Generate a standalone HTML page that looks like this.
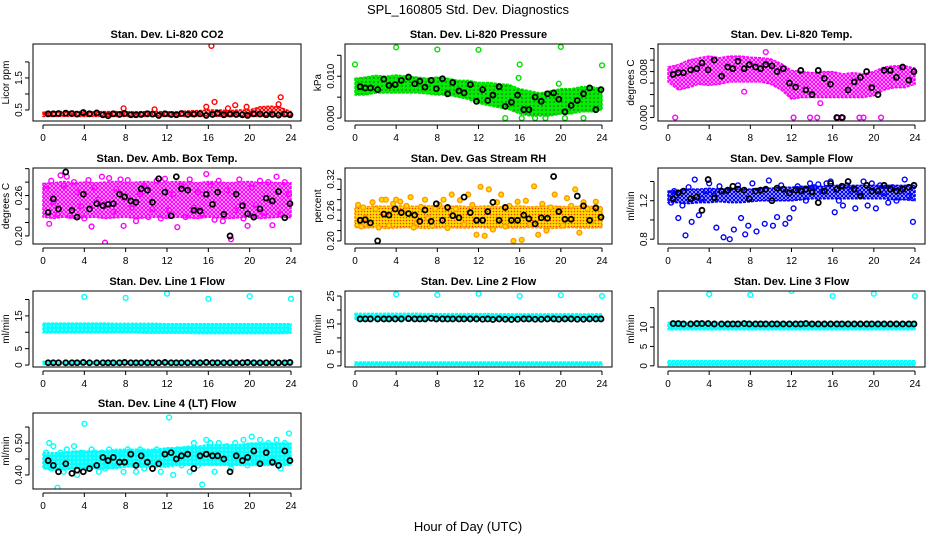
<!DOCTYPE html>
<html><head><meta charset="utf-8"><style>
html,body{margin:0;padding:0;background:#fff}
svg{display:block;font-family:"Liberation Sans",sans-serif}
</style></head><body>
<svg id="chart" width="936" height="540" viewBox="0 0 936 540" xmlns="http://www.w3.org/2000/svg">
<defs>
<pattern id="pat-red" width="4" height="4" patternUnits="userSpaceOnUse"><rect width="4" height="4" fill="#fff"/><circle cx="2" cy="2" r="1.5" fill="none" stroke="#ff0000" stroke-width="1.2"/></pattern>
<pattern id="pat-green" width="4" height="4" patternUnits="userSpaceOnUse"><rect width="4" height="4" fill="#00ee00"/><circle cx="2" cy="2" r="0.7" fill="#333"/></pattern>
<pattern id="pat-magenta" width="4" height="4" patternUnits="userSpaceOnUse"><rect width="4" height="4" fill="#fff"/><circle cx="2" cy="2" r="1.5" fill="none" stroke="#ff00ff" stroke-width="1.3"/></pattern>
<pattern id="pat-rh" width="3" height="3" patternUnits="userSpaceOnUse"><rect width="3" height="3" fill="#ffdd00"/><circle cx="1.5" cy="1.5" r="0.8" fill="#ff3300"/></pattern>
<pattern id="pat-blue" width="4" height="4" patternUnits="userSpaceOnUse"><rect width="4" height="4" fill="#fff"/><circle cx="2" cy="2" r="1.5" fill="none" stroke="#0000ff" stroke-width="1.3"/></pattern>
<pattern id="pat-cyan" width="4" height="4" patternUnits="userSpaceOnUse"><rect width="4" height="4" fill="#00ffff"/><circle cx="2" cy="2" r="0.7" fill="#ccffff"/></pattern>
</defs>
<text x="468" y="14" text-anchor="middle" font-size="13">SPL_160805  Std. Dev. Diagnostics</text>
<text x="468" y="531" text-anchor="middle" font-size="13">Hour of Day (UTC)</text>
</svg>
<script>
const hours=[0,1,2,3,4,5,6,7,8,9,10,11,12,13,14,15,16,17,18,19,20,21,22,23,24];
const blackHours=[0.5,1,1.5,2.2,2.8,3.3,3.9,4.5,5.2,5.8,6.3,6.8,7.4,7.9,8.5,9,9.5,10.1,10.6,11.2,11.8,12.4,12.9,13.4,14,14.6,15.2,15.8,16.4,16.9,17.5,18.1,18.7,19.3,19.8,20.4,21,21.6,22.2,22.8,23.4,23.9];
const scatterHours=[0.3,0.6,0.8,1,1.4,1.7,2,2.3,2.6,3,3.3,3.7,4,4.4,4.7,5,5.4,5.7,6,6.4,6.8,7.1,7.5,7.8,8.2,8.6,9,9.4,9.8,10.2,10.6,11,11.4,11.8,12.2,12.6,13,13.4,13.8,14.2,14.6,15,15.4,15.8,16.2,16.6,17,17.4,17.8,18.2,18.6,19,19.4,19.8,20.2,20.6,21,21.4,21.8,22.2,22.6,23,23.4,23.8];
const xTickValues=[0,4,8,12,16,20,24];
const xTickLabels=['0','4','8','12','16','20','24'];

// CO2
const co2Lo=[0.3,0.3,0.3,0.3,0.3,0.3,0.3,0.3,0.3,0.3,0.3,0.3,0.3,0.3,0.3,0.3,0.3,0.3,0.3,0.3,0.3,0.3,0.3,0.3,0.3];
const co2Hi=[0.43,0.44,0.45,0.45,0.45,0.44,0.45,0.45,0.44,0.44,0.45,0.45,0.44,0.44,0.47,0.48,0.5,0.5,0.48,0.5,0.5,0.6,0.62,0.58,0.45];
const co2OutX=[16.3,16.6,23,18.6,19.7,15.8,7.8,10.8,17.9,22.8];
const co2OutY=[2.5,0.75,0.9,0.65,0.6,0.6,0.55,0.52,0.55,0.68];
const co2Black=[0.38,0.38,0.39,0.4,0.39,0.37,0.42,0.38,0.41,0.35,0.32,0.38,0.36,0.39,0.35,0.35,0.36,0.38,0.37,0.33,0.38,0.36,0.35,0.39,0.36,0.37,0.38,0.33,0.36,0.4,0.35,0.37,0.36,0.35,0.33,0.38,0.37,0.35,0.36,0.34,0.37,0.35];
// Pressure
const presLo=[.0055,.0055,.006,.006,.006,.006,.006,.0058,.0055,.0055,.005,.0045,.0035,.003,.0025,.002,.001,.0005,.0005,.0005,.001,.001,.0015,.0015,.002];
const presHi=[.0095,.0098,.0102,.01,.0103,.01,.0098,.0095,.0098,.0095,.009,.009,.0085,.0085,.0082,.008,.007,.0065,.006,.0065,.007,.007,.0075,.0075,.007];
const presOutX=[0,4,8,12,16,15.9,20,24,14.6,16.2,17.5,18.5,20.4,22.2,19.8];
const presOutY=[.0128,.0169,.0164,.0163,.0128,.0096,.0170,.0126,0,0,0,0,0,0,.0082];
const presBlack=[.0075,.0072,.0072,.0068,.0093,.0078,.0080,.0090,.0098,.0082,.0088,.0074,.0090,.0070,.0094,.0058,.0085,.0065,.0060,.0080,.0040,.0068,.0042,.0055,.0075,.0028,.0038,.0055,.0020,.0020,.0050,.0040,.0058,.0060,.0045,.0015,.0030,.0042,.0058,.0072,.0020,.0068];
// Li-820 Temp
const tempLo=[.0062,.0048,.0052,.0058,.0056,.0058,.0062,.0062,.0062,.0062,.0058,.0048,.0032,.0035,.0035,.0035,.0035,.0035,.0035,.0035,.0038,.0048,.0052,.0052,.0058];
const tempHi=[.0088,.0092,.0100,.0104,.0107,.0104,.0107,.0107,.0105,.0104,.0102,.0094,.0082,.0080,.0078,.0080,.0080,.0076,.0078,.0076,.0080,.0088,.0090,.0090,.0086];
const tempOutX=[0.7,12.2,13.8,14.5,16.5,17,18.6,19,20.7,9.5,14.8,7.4];
const tempOutY=[0,0,0,0,0,0,0,0,0,.0114,.0025,.0045];
const tempBlack=[.0075,.0078,.0078,.0083,.0085,.0095,.0083,.0100,.0072,.0088,.0085,.0098,.0085,.0092,.0088,.0085,.0092,.0090,.0080,.0085,.0060,.0053,.0082,.0048,.0040,.0082,.0068,.0058,.0000,.0000,.0048,.0062,.0070,.0080,.0052,.0040,.0082,.0082,.0070,.0088,.0065,.0080];
// Amb box temp
const ambLo=[.228,.226,.228,.226,.227,.228,.226,.227,.228,.226,.227,.228,.226,.228,.227,.226,.228,.227,.226,.227,.228,.226,.227,.228,.227];
const ambHi=[.278,.279,.281,.279,.280,.279,.280,.281,.279,.280,.281,.279,.280,.281,.280,.279,.281,.280,.279,.280,.281,.279,.280,.279,.279];
const ambScatter=[.27,.218,.282,.25,.232,.29,.275,.288,.23,.28,.265,.244,.226,.283,.214,.272,.254,.288,.19,.286,.236,.27,.284,.215,.283,.242,.222,.262,.274,.228,.24,.282,.226,.285,.238,.262,.213,.275,.228,.284,.242,.265,.232,.292,.275,.224,.282,.222,.268,.195,.238,.284,.226,.215,.272,.246,.282,.234,.28,.216,.288,.232,.28,.262];
const ambBlack=[.235,.255,.24,.295,.238,.228,.262,.24,.248,.245,.247,.248,.262,.258,.252,.25,.27,.268,.25,.285,.265,.23,.288,.27,.268,.238,.237,.262,.247,.265,.232,.2,.262,.245,.233,.228,.24,.256,.252,.266,.227,.248];
// RH
const rhLo=[.226,.225,.226,.224,.225,.226,.225,.224,.225,.226,.225,.225,.226,.225,.226,.225,.225,.226,.225,.224,.225,.226,.225,.225,.226];
const rhHi=[.265,.266,.268,.267,.268,.268,.267,.268,.268,.267,.268,.266,.267,.268,.266,.267,.268,.266,.267,.268,.267,.266,.268,.267,.266];
const rhScatter=[.27,.228,.265,.245,.232,.275,.262,.226,.28,.28,.23,.272,.28,.276,.255,.268,.285,.226,.235,.266,.28,.244,.23,.262,.27,.28,.225,.29,.262,.279,.232,.29,.27,.212,.305,.21,.3,.222,.275,.29,.228,.268,.2,.276,.202,.278,.232,.306,.212,.272,.22,.265,.29,.262,.23,.283,.268,.3,.216,.275,.262,.238,.276,.262];
const rhBlack=[.24,.241,.235,.2,.252,.25,.262,.255,.253,.25,.238,.26,.238,.272,.24,.265,.249,.245,.285,.255,.24,.24,.257,.275,.24,.265,.24,.24,.25,.243,.233,.245,.244,.325,.257,.242,.242,.287,.268,.24,.264,.246];
// Sample flow
const sfLo=[1.18,1.18,1.17,1.18,1.18,1.19,1.18,1.18,1.19,1.2,1.2,1.2,1.2,1.21,1.22,1.22,1.22,1.22,1.22,1.22,1.22,1.22,1.21,1.21,1.2];
const sfHi=[1.3,1.31,1.32,1.32,1.33,1.32,1.32,1.32,1.32,1.33,1.33,1.34,1.34,1.35,1.35,1.35,1.36,1.36,1.36,1.36,1.36,1.36,1.36,1.36,1.36];
const sfScatter=[1.18,1.3,1.25,1.02,1.15,.84,1.34,.98,1.42,1.05,1.22,1.3,1.38,1.3,.92,1.35,.82,1.3,.8,.9,1.36,1.02,.85,.94,1.38,.88,1.3,.96,1.41,.94,1.03,1.36,.96,1.02,1.12,1.35,1.3,1.2,1.38,1.34,1.37,1.3,1.38,1.4,1.08,1.2,1.15,1.36,1.3,1.12,1.28,1.4,1.15,1.38,1.12,1.36,1.28,1.18,1.34,1.2,1.3,1.42,1.25,.98];
const sfBlack=[1.22,1.28,1.3,1.22,1.24,1.1,1.42,1.23,1.3,1.31,1.35,1.32,1.31,1.22,1.3,1.31,1.32,1.2,1.33,1.32,1.28,1.31,1.3,1.32,1.29,1.18,1.3,1.38,1.32,1.35,1.4,1.32,1.25,1.36,1.3,1.3,1.36,1.32,1.3,1.32,1.34,1.36];
// Line flows
const outlierHours=[4,8,12,16,20,24];
const l1Lo=[9.8,9.8,9.8,9.8,9.8,9.8,9.8,9.8,9.8,9.8,9.7,9.7,9.7,9.7,9.7,9.6,9.6,9.6,9.6,9.6,9.6,9.6,9.6,9.6,9.7];
const l1Hi=[12.8,12.8,12.8,12.8,12.8,12.8,12.8,12.7,12.7,12.7,12.7,12.7,12.6,12.6,12.6,12.6,12.6,12.6,12.6,12.6,12.6,12.6,12.6,12.6,12.6];
const l1LowLo=[0.2,0.2,0.2,0.2,0.2,0.2,0.2,0.2,0.2,0.2,0.2,0.2,0.2,0.2,0.2,0.2,0.2,0.2,0.2,0.2,0.2,0.2,0.2,0.2,0.2];
const l1LowHi=[1.1,1.1,1.1,1.1,1.1,1.1,1.1,1.1,1.1,1.1,1.1,1.1,1.1,1.1,1.1,1.1,1.1,1.1,1.1,1.1,1.1,1.1,1.1,1.1,1.1];
const l1Out=[20.8,20.5,21.8,20.2,21,20.2];
const l1Black=[0.7,0.7,0.7,0.7,0.7,0.7,0.8,0.7,0.7,0.7,0.7,0.7,0.7,0.8,0.7,0.7,0.7,0.7,0.7,0.7,0.8,0.7,0.7,0.7,0.7,0.7,0.7,0.8,0.7,0.7,0.7,0.7,0.7,0.7,0.8,0.7,0.7,0.7,0.7,0.7,0.7,0.8];
const l2Lo=[16.5,16.5,16.5,16.5,16.5,16.5,16.5,16.5,16.5,16.5,16.5,16.5,16.5,16.5,16.5,16.5,16.5,16.5,16.5,16.5,16.5,16.5,16.5,16.5,16.5];
const l2Hi=[18.8,18.8,18.8,18.8,18.8,18.8,18.8,18.7,18.7,18.7,18.7,18.7,18.7,18.7,18.6,18.6,18.6,18.6,18.6,18.6,18.6,18.6,18.6,18.6,18.6];
const l2LowLo=[0.2,0.2,0.2,0.2,0.2,0.2,0.2,0.2,0.2,0.2,0.2,0.2,0.2,0.2,0.2,0.2,0.2,0.2,0.2,0.2,0.2,0.2,0.2,0.2,0.2];
const l2LowHi=[1.4,1.4,1.4,1.4,1.4,1.4,1.4,1.4,1.4,1.4,1.4,1.4,1.4,1.4,1.4,1.4,1.4,1.4,1.4,1.4,1.4,1.4,1.4,1.4,1.4];
const l2Out=[25.6,25.4,25.8,25,25.3,25];
const l2Black=[16.8,16.8,16.8,16.8,16.8,16.8,16.8,16.8,16.9,16.8,16.8,16.8,17,16.8,16.8,16.8,16.8,16.8,16.8,16.8,16.8,16.7,16.8,16.6,16.8,16.7,16.6,16.7,16.8,16.8,16.7,16.7,16.8,16.8,16.7,16.8,16.8,16.7,16.7,16.8,16.8,16.8];
const l3Lo=[9.3,9.3,9.3,9.3,9.3,9.3,9.3,9.3,9.3,9.3,9.3,9.3,9.3,9.3,9.3,9.3,9.3,9.3,9.3,9.3,9.3,9.3,9.3,9.3,9.3];
const l3Hi=[11.2,11.2,11.2,11.2,11.2,11.2,11.2,11.2,11.2,11.2,11.2,11.2,11.2,11.2,11.2,11.2,11.2,11.2,11.2,11.2,11.2,11.2,11.2,11.2,11.2];
const l3LowLo=[0.1,0.1,0.1,0.1,0.1,0.1,0.1,0.1,0.1,0.1,0.1,0.1,0.1,0.1,0.1,0.1,0.1,0.1,0.1,0.1,0.1,0.1,0.1,0.1,0.1];
const l3LowHi=[1.3,1.3,1.3,1.3,1.3,1.3,1.3,1.3,1.3,1.3,1.3,1.3,1.3,1.3,1.3,1.3,1.3,1.3,1.3,1.3,1.3,1.3,1.3,1.3,1.3];
const l3Out=[18.5,18.3,19.3,18,18.6,18];
const l3Black=[10.9,10.9,10.8,10.8,10.9,10.9,10.9,10.8,10.8,10.8,10.8,10.8,10.9,10.8,10.8,10.8,10.8,10.8,10.8,10.8,10.8,10.8,10.8,10.9,10.8,10.8,10.8,10.8,10.8,10.8,10.8,10.8,10.8,10.8,10.8,10.8,10.8,10.8,10.8,10.8,10.8,10.8];
const l4Lo=[0.42,0.415,0.415,0.42,0.42,0.42,0.42,0.42,0.425,0.425,0.425,0.425,0.425,0.43,0.43,0.43,0.43,0.43,0.43,0.43,0.43,0.43,0.43,0.43,0.43];
const l4Hi=[0.47,0.47,0.47,0.475,0.475,0.475,0.475,0.48,0.48,0.48,0.48,0.48,0.485,0.485,0.49,0.49,0.495,0.495,0.495,0.495,0.5,0.5,0.5,0.5,0.5];
const l4Scatter=[.47,.5,.42,.49,.36,.47,.41,.48,.44,.49,.4,.47,.56,.42,.48,.47,.41,.47,.42,.48,.47,.43,.47,.41,.48,.46,.41,.48,.42,.47,.44,.48,.41,.47,.58,.4,.48,.43,.47,.41,.5,.43,.37,.51,.5,.41,.5,.44,.49,.42,.5,.44,.51,.43,.52,.44,.51,.44,.5,.45,.51,.42,.5,.53];
const l4Black=[.445,.43,.41,.435,.405,.415,.41,.42,.43,.455,.445,.455,.44,.44,.465,.43,.46,.44,.42,.435,.465,.47,.45,.46,.465,.42,.46,.465,.46,.46,.45,.41,.46,.445,.455,.475,.435,.47,.44,.43,.475,.445];

const NS='http://www.w3.org/2000/svg';
const svg=document.getElementById('chart');
const colX0=[43,355,668], colX24=[291,602,915];
const rowTop=[44,168,291,413], rowBot=[121,244,367,489];
function mk(tag,attrs,parent){const e=document.createElementNS(NS,tag);for(const k in attrs)e.setAttribute(k,attrs[k]);(parent||svg).appendChild(e);return e;}

const panels=[
 {key:'co2',col:0,row:0,title:'Stan. Dev. Li-820 CO2',ylab:'Licor ppm',ymin:0.156,ymax:2.56,ticks:[0.5,1,1.5,2],tl:['0.5','','1.5',''],color:'#ff0000',pat:'pat-red',bands:[[co2Lo,co2Hi]],sx:co2OutX,sy:co2OutY,black:co2Black},
 {key:'pressure',col:1,row:0,title:'Stan. Dev. Li-820 Pressure',ylab:'kPa',ymin:-0.0007,ymax:0.0177,ticks:[0,.005,.01,.015],tl:['0.000','','0.010',''],color:'#00dd00',pat:'pat-green',bands:[[presLo,presHi]],sx:presOutX,sy:presOutY,black:presBlack},
 {key:'temp',col:2,row:0,title:'Stan. Dev. Li-820 Temp.',ylab:'degrees C',ymin:-0.0006,ymax:0.0128,ticks:[0,.002,.004,.006,.008,.010,.012],tl:['0.000','','','','0.008','',''],color:'#ff00ff',pat:'pat-magenta',bands:[[tempLo,tempHi]],sx:tempOutX,sy:tempOutY,black:tempBlack},
 {key:'ambtemp',col:0,row:1,title:'Stan. Dev. Amb. Box Temp.',ylab:'degrees C',ymin:0.188,ymax:0.301,ticks:[.2,.22,.24,.26,.28,.3],tl:['0.20','','','0.26','',''],color:'#ff00ff',pat:'pat-magenta',bands:[[ambLo,ambHi]],sx:scatterHours,sy:ambScatter,black:ambBlack},
 {key:'rh',col:1,row:1,title:'Stan. Dev. Gas Stream RH',ylab:'percent',ymin:0.194,ymax:0.3415,ticks:[.2,.22,.24,.26,.28,.3,.32],tl:['0.20','','','0.26','','','0.32'],color:'#ff9900',pat:'pat-rh',bands:[[rhLo,rhHi]],sx:scatterHours,sy:rhScatter,black:rhBlack},
 {key:'sampleflow',col:2,row:1,title:'Stan. Dev. Sample Flow',ylab:'ml/min',ymin:0.75,ymax:1.54,ticks:[.8,1.0,1.2,1.4],tl:['0.8','','1.2',''],color:'#0000ff',pat:'pat-blue',bands:[[sfLo,sfHi]],sx:scatterHours,sy:sfScatter,black:sfBlack},
 {key:'line1',col:0,row:2,title:'Stan. Dev. Line 1 Flow',ylab:'ml/min',ymin:-0.6,ymax:22.6,ticks:[0,5,10,15,20],tl:['0','5','','15',''],color:'#00ffff',pat:'pat-cyan',bands:[[l1Lo,l1Hi],[l1LowLo,l1LowHi]],sx:outlierHours,sy:l1Out,black:l1Black},
 {key:'line2',col:1,row:2,title:'Stan. Dev. Line 2 Flow',ylab:'ml/min',ymin:-0.4,ymax:26.8,ticks:[0,5,10,15,20,25],tl:['0','5','','15','','25'],color:'#00ffff',pat:'pat-cyan',bands:[[l2Lo,l2Hi],[l2LowLo,l2LowHi]],sx:outlierHours,sy:l2Out,black:l2Black},
 {key:'line3',col:2,row:2,title:'Stan. Dev. Line 3 Flow',ylab:'ml/min',ymin:-0.3,ymax:19.3,ticks:[0,5,10,15],tl:['0','5','10',''],color:'#00ffff',pat:'pat-cyan',bands:[[l3Lo,l3Hi],[l3LowLo,l3LowHi]],sx:outlierHours,sy:l3Out,black:l3Black},
 {key:'line4',col:0,row:3,title:'Stan. Dev. Line 4 (LT) Flow',ylab:'ml/min',ymin:0.356,ymax:0.594,ticks:[.4,.45,.5,.55],tl:['0.40','','0.50',''],color:'#00ffff',pat:'pat-cyan',bands:[[l4Lo,l4Hi]],sx:scatterHours,sy:l4Scatter,black:l4Black}
];

panels.forEach(p=>{
  const x0=colX0[p.col], x24=colX24[p.col], top=rowTop[p.row], bot=rowBot[p.row];
  const L=x0-10, R=x24+10;
  const xs=h=>x0+(x24-x0)*h/24;
  const ys=v=>bot-(v-p.ymin)/(p.ymax-p.ymin)*(bot-top);
  const g=mk('g',{});
  
  
  const clipId='clip-'+p.key;
  const cp=mk('clipPath',{id:clipId},g); mk('rect',{x:L,y:top,width:R-L,height:bot-top},cp);
  const plot=mk('g',{'clip-path':'url(#'+clipId+')'},g);
  
  
  p.bands.forEach((b,bi)=>{
    let pts=[];
    hours.forEach((h,i)=>pts.push(xs(h)+','+ys(b[1][i])));
    for(let i=hours.length-1;i>=0;i--)pts.push(xs(hours[i])+','+ys(b[0][i]));
    const poly=mk('polygon',{points:pts.join(' '),fill:'url(#'+p.pat+')',stroke:p.color,'stroke-width':1.5,'stroke-dasharray':'3 1','stroke-linejoin':'round'},plot);
    
    
  });
  p.sx.forEach((h,i)=>{
    const c=mk('circle',{cx:xs(h),cy:ys(p.sy[i]),r:2.4,fill:p.key==='rh'?'#ffdd00':'none',stroke:p.color,'stroke-width':1.4},plot);
    
    
  });
  blackHours.forEach((h,i)=>{
    const c=mk('circle',{cx:xs(h),cy:ys(p.black[i]),r:2.5,fill:'none',stroke:'#000','stroke-width':1.8},plot);
    
    
  });
  const box=mk('rect',{x:L,y:top,width:R-L,height:bot-top,fill:'none',stroke:'#000','stroke-width':1},g);
  
  
  const t=mk('text',{x:(L+R)/2,y:top-6,'text-anchor':'middle','font-size':11,'font-weight':'bold'},g);
  t.textContent=p.title;
  
  
  const ax=mk('g',{},g);
  
  
  mk('line',{x1:xs(0),x2:xs(24),y1:bot+4,y2:bot+4,stroke:'#000'},ax);
  xTickValues.forEach((v,i)=>{
    mk('line',{x1:xs(v),x2:xs(v),y1:bot+4,y2:bot+8,stroke:'#000'},ax);
    const tx=mk('text',{x:xs(v),y:bot+20,'text-anchor':'middle','font-size':10},ax);
    tx.textContent=xTickLabels[i];
    
    
  });
  const ay=mk('g',{},g);
  
  
  mk('line',{x1:L-4,x2:L-4,y1:ys(p.ticks[0]),y2:ys(p.ticks[p.ticks.length-1]),stroke:'#000'},ay);
  p.ticks.forEach((v,i)=>{
    mk('line',{x1:L-8,x2:L-4,y1:ys(v),y2:ys(v),stroke:'#000'},ay);
    if(p.tl[i]){
      const ty=mk('text',{x:0,y:0,'text-anchor':'middle','font-size':10,transform:'translate('+(L-11)+','+ys(v)+') rotate(-90)'},ay);
      ty.textContent=p.tl[i];
      
      
    }
  });
  const yl=mk('text',{x:0,y:0,'text-anchor':'middle','font-size':10,transform:'translate('+(L-24)+','+((top+bot)/2)+') rotate(-90)'},g);
  yl.textContent=p.ylab;
  
  
});
</script>
</body></html>
